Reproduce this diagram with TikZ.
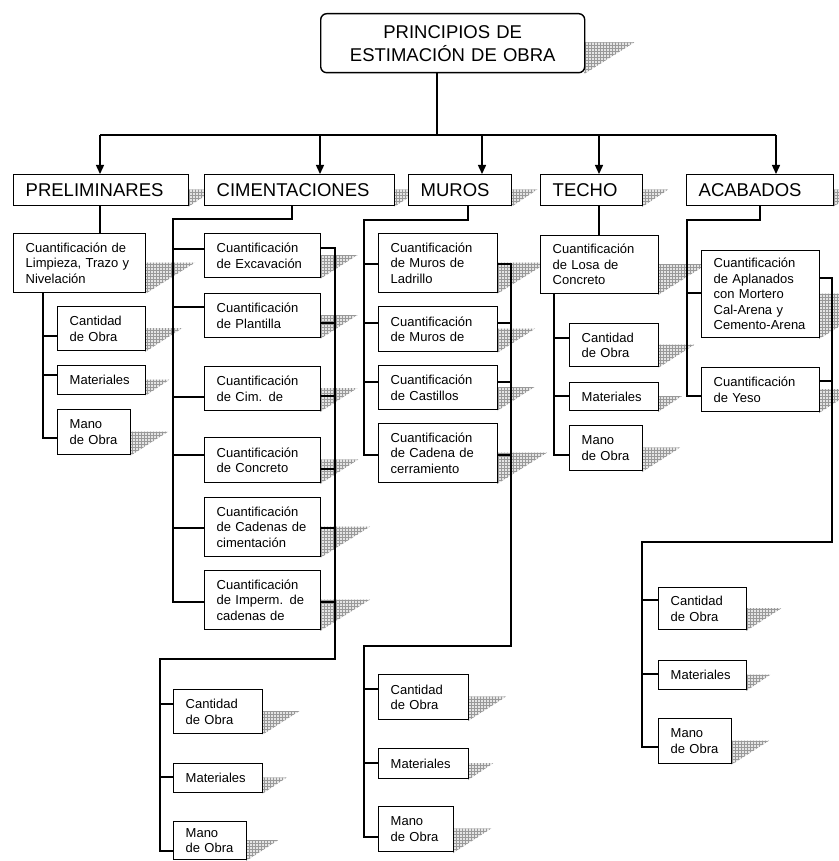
\documentclass[tikz,border=0pt]{standalone}
\usepackage{fontspec}
\setmainfont{Liberation Sans}
\usetikzlibrary{arrows.meta,patterns}
\pgfdeclarelayer{bg}
\pgfsetlayers{bg,main}
\tikzset{
  nodebox/.style={draw=black, line width=1.4pt, fill=white, rectangle, anchor=north west,
    inner xsep=12pt, inner ysep=0pt, align=left, text=black,
    font=\fontsize{13}{15.5}\selectfont},
  bigbox/.style={font=\fontsize{18.5}{22}\selectfont},
  hatchsty/.style={fill=gray!20, postaction={pattern=grid, pattern color=gray!80}},
  conn/.style={line width=1.4pt, draw=black},
  arr/.style={conn, -{Triangle[length=9pt,width=8pt]}},
}
% #1 options, #2 name, #3 x, #4 y, #5 w, #6 h, #7 text
\newcommand{\bx}[7][]{%
  \pgfmathsetmacro{\tw}{#5-24}%
  \begin{pgfonlayer}{bg}
    \path[hatchsty] (#3+#5,#4+#6/2) -- ++(0.85*#6,0) -- (#3+#5,#4+#6+2) -- cycle;
  \end{pgfonlayer}
  \node[nodebox, minimum width=#5pt, minimum height=#6pt, text width=\tw pt, #1] (#2) at (#3,#4) {#7};%
}
\newcommand{\br}[3]{\draw[conn] (#1,#2) -- (#3.west |- #1,#2);}
\newcommand{\rs}[3]{\draw[conn] (#3.east |- #1,#2) -- (#1,#2);}
\begin{document}
\begin{tikzpicture}[x=1pt,y=-1pt]
\useasboundingbox (0,0) rectangle (838,861);
\begin{pgfonlayer}{bg}
\path[fill=white] (0,0) rectangle (838,861);
\end{pgfonlayer}

% top
\bx[rounded corners=6pt, align=center, font=\fontsize{18.5}{23}\selectfont]{top}{320}{13}{264}{59}{PRINCIPIOS DE\\ESTIMACIÓN DE OBRA}

% level 1
\bx[bigbox]{prel}{13}{174}{175}{31}{PRELIMINARES}
\bx[bigbox]{cim}{204}{174}{190}{31}{CIMENTACIONES}
\bx[bigbox]{mur}{408}{174}{103}{31}{MUROS}
\bx[bigbox]{tec}{540}{174}{102}{31}{TECHO}
\bx[bigbox]{aca}{686}{174}{147}{31}{ACABADOS}

% preliminares
\bx{p0}{13}{233}{132}{59}{Cuantificación de\\Limpieza, Trazo y\\Nivelación}
\bx{p1}{57}{306}{88}{44}{Cantidad\\de Obra}
\bx{p2}{57}{365}{88}{29}{Materiales}
\bx{p3}{57}{409}{73}{45}{Mano\\de Obra}

% cimentaciones
\bx{c1}{204}{233}{116}{44}{Cuantificación\\de Excavación}
\bx{c2}{204}{293}{116}{44}{Cuantificación\\de Plantilla}
\bx{c3}{204}{366}{116}{44}{Cuantificación\\de Cim. de}
\bx{c4}{204}{437}{116}{45}{Cuantificación\\de Concreto}
\bx{c5}{204}{497}{116}{59}{Cuantificación\\de Cadenas de\\cimentación}
\bx{c6}{204}{570}{116}{59}{Cuantificación\\de  Imperm. de\\cadenas de}
\bx{c7}{173}{689}{89}{44}{Cantidad\\de Obra}
\bx{c8}{173}{763}{89}{29}{Materiales}
\bx{c9}{173}{821}{73}{38}{Mano\\de Obra}

% muros
\bx{m1}{378}{233}{119}{59}{Cuantificación\\de  Muros de\\Ladrillo}
\bx{m2}{378}{306}{119}{45}{Cuantificación\\de  Muros de}
\bx{m3}{378}{365}{119}{44}{Cuantificación\\de  Castillos}
\bx{m4}{378}{423}{119}{59}{Cuantificación\\ de  Cadena de\\cerramiento}
\bx{m5}{378}{674}{90}{45}{Cantidad\\de Obra}
\bx{m6}{378}{748}{90}{30}{Materiales}
\bx{m7}{378}{806}{75}{45}{Mano\\de Obra}

% techo
\bx{t0}{540}{235}{118}{58}{Cuantificación\\de  Losa de\\Concreto}
\bx{t1}{569}{323}{89}{43}{Cantidad\\de Obra}
\bx{t2}{569}{382}{89}{28}{Materiales}
\bx{t3}{569}{425}{73}{45}{Mano\\de Obra}

% acabados
\bx{a1}{701}{250}{118}{87}{Cuantificación\\de  Aplanados\\con Mortero\\Cal-Arena y\\Cemento-Arena}
\bx{a2}{701}{367}{118}{44}{Cuantificación\\de  Yeso}
\bx{a3}{658}{587}{88}{42}{Cantidad\\de Obra}
\bx{a4}{658}{660}{88}{29}{Materiales}
\bx{a5}{658}{718}{73}{45}{Mano\\de Obra}

% top connectors
\coordinate (b0) at (437,135);
\coordinate (b1) at (100,135);
\coordinate (b2) at (320,135);
\coordinate (b3) at (482,135);
\coordinate (b4) at (599,135);
\coordinate (b5) at (776,135);
\draw[conn] (top.south -| b0) -- (b0);
\draw[conn] (b1) -- (b5);
\draw[arr] (b1) -- (b1 |- prel.north);
\draw[arr] (b2) -- (b2 |- cim.north);
\draw[arr] (b3) -- (b3 |- mur.north);
\draw[arr] (b4) -- (b4 |- tec.north);
\draw[arr] (b5) -- (b5 |- aca.north);

% preliminares connectors
\draw[conn] (prel.south -| b1) -- (p0.north -| b1);
\draw[conn] (p0.south -| 43,0) -- (43,438) -- (p3.west |- 0,438);
\br{43}{336}{p1}
\br{43}{375}{p2}

% cimentaciones connectors
\draw[conn] (cim.south -| 292,0) -- (292,219) -- (173,219) -- (173,602) -- (c6.west |- 0,602);
\br{173}{249}{c1}
\br{173}{307}{c2}
\br{173}{397}{c3}
\br{173}{455}{c4}
\br{173}{528}{c5}
\draw[conn] (c1.east |- 0,248) -- (335,248) -- (335,659) -- (160,659) -- (160,851) -- (c9.west |- 0,851);
\rs{335}{323}{c2}
\rs{335}{396}{c3}
\rs{335}{469}{c4}
\rs{335}{528}{c5}
\rs{335}{602}{c6}
\br{160}{704}{c7}
\br{160}{777}{c8}

% muros connectors
\draw[conn] (mur.south -| 468,0) -- (468,220) -- (364,220) -- (364,455) -- (m4.west |- 0,455);
\br{364}{264}{m1}
\br{364}{323}{m2}
\br{364}{382}{m3}
\draw[conn] (m1.east |- 0,264) -- (511,264) -- (511,646) -- (364,646) -- (364,837) -- (m7.west |- 0,837);
\rs{511}{323}{m2}
\rs{511}{382}{m3}
\rs{511}{455}{m4}
\br{364}{689}{m5}
\br{364}{763}{m6}

% techo connectors
\draw[conn] (tec.south -| b4) -- (t0.north -| b4);
\draw[conn] (t0.south -| 554,0) -- (554,455) -- (t3.west |- 0,455);
\br{554}{338}{t1}
\br{554}{396}{t2}

% acabados connectors
\draw[conn] (aca.south -| 760,0) -- (760,220) -- (687,220) -- (687,396) -- (a2.west |- 0,396);
\br{687}{293}{a1}
\draw[conn] (a1.east |- 0,278) -- (832,278) -- (832,542) -- (642,542) -- (642,747) -- (a5.west |- 0,747);
\rs{832}{381}{a2}
\br{642}{600}{a3}
\br{642}{674}{a4}
\end{tikzpicture}
\end{document}
